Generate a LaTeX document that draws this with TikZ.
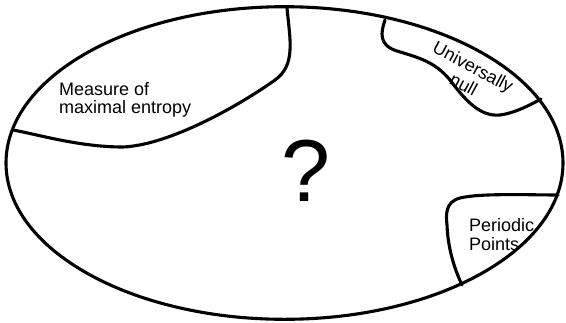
\documentclass[tikz,border=0pt]{standalone}
\usepackage{fontspec}
\setmainfont{Liberation Sans}
\tikzset{
  bound/.style={line width=3.1pt, line cap=round, line join=round},
  lbl/.style={inner sep=0pt, font=\fontsize{18}{18}\selectfont, align=left},
}
\begin{document}
\begin{tikzpicture}[x=1pt,y=-1pt]
\useasboundingbox (0,0) rectangle (566,322);
% outer ellipse
\draw[bound] (284.5,163) ellipse [x radius=278.5pt, y radius=156.3pt];
% boundary points
\coordinate (m1) at (287,8);
\coordinate (m2) at (13,130);
\coordinate (u1) at (385,20);
\coordinate (u2) at (541,99);
\coordinate (p1) at (558,195);
\coordinate (p2) at (462,285);
% Measure of maximal entropy region
\draw[bound] (m1) .. controls (290,40) and (296,65) .. (275,80)
  .. controls (240,105) and (170,145) .. (123,147)
  .. controls (80,147) and (40,135) .. (m2);
% Universally null region
\draw[bound] (u1) .. controls (381,32) and (378,45) .. (397,51)
  .. controls (420,58) and (435,62) .. (450,80)
  .. controls (465,100) and (480,117) .. (500,115)
  .. controls (515,113) and (530,105) .. (u2);
% Periodic points region
\draw[bound] (p1) .. controls (530,195) and (480,193) .. (460,198)
  .. controls (445,202) and (446,215) .. (447,225)
  .. controls (448,250) and (455,270) .. (p2);
% labels
\node[lbl, anchor=west] (mme) at (59,99.5) {Measure of\\maximal entropy};
\node[lbl, align=center, rotate=-28, font=\fontsize{18}{20}\selectfont] (un) at (468.5,75.5) {Universally\\null};
\node[lbl, anchor=west, font=\fontsize{18}{19}\selectfont] (pp) at (469,235) {Periodic\\Points};
\node[inner sep=0pt, font=\fontsize{88}{90}\selectfont] (q) at (306,171) {?};
\end{tikzpicture}
\end{document}
